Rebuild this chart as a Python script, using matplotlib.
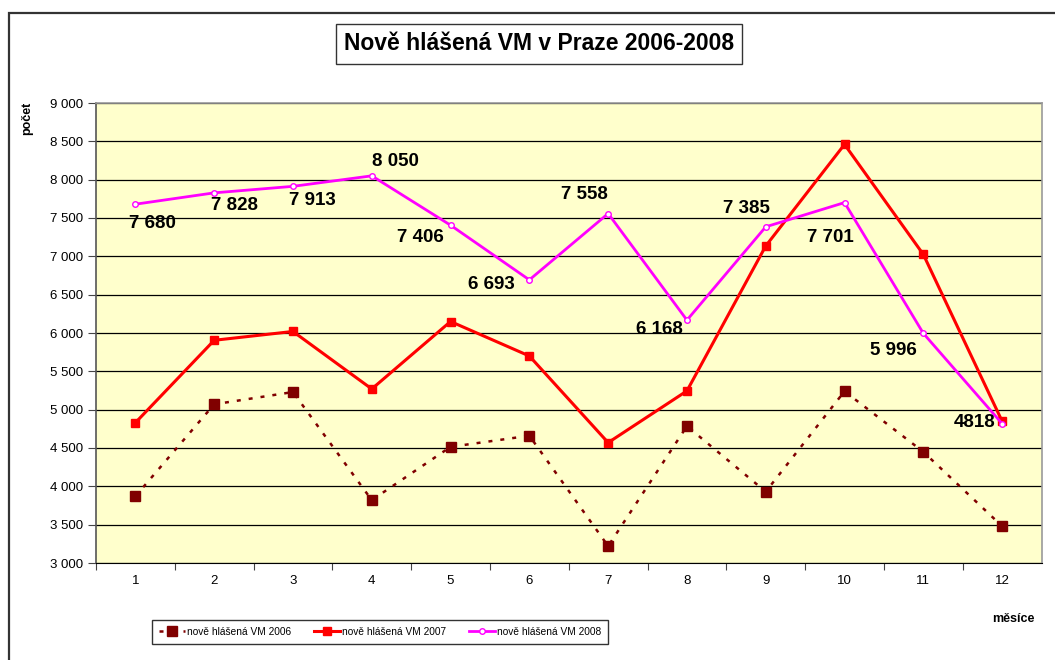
import matplotlib.pyplot as plt
from matplotlib.patches import Rectangle
from matplotlib.ticker import FuncFormatter, MultipleLocator

# data
months = list(range(1, 13))
vm_2006 = [3870, 5070, 5230, 3820, 4515, 4660, 3220, 4785, 3930, 5240, 4450, 3480]
vm_2007 = [4830, 5905, 6020, 5270, 6150, 5700, 4570, 5245, 7135, 8460, 7025, 4850]
vm_2008 = [7680, 7828, 7913, 8050, 7406, 6693, 7558, 6168, 7385, 7701, 5996, 4818]
labels_2008 = ["7 680", "7 828", "7 913", "8 050", "7 406", "6 693",
               "7 558", "6 168", "7 385", "7 701", "5 996", "4818"]

# label offsets in pixels (dx, dy) from each 2008 point
label_offsets = [(17, -19), (20, -13), (19, -14), (24, 14), (-30, -12), (-38, -5),
                 (-24, 19), (-27, -9), (-19, 18), (-14, -35), (-30, -17), (-27, 1)]

W, H = 1055, 660
fig = plt.figure(figsize=(W / 100, H / 100), dpi=100)
fig.patch.set_facecolor("white")
plt.rcParams['font.family'] = ['Liberation Sans', 'DejaVu Sans']

# outer chart border
fig.patches.append(Rectangle((9 / W, -0.05), 1.1, 1 - 13 / H + 0.05, transform=fig.transFigure,
                             fill=False, edgecolor="#333333", linewidth=1.6))

left, top, right, bottom = 96, 103, 1041.5, 563
ax = fig.add_axes([left / W, 1 - bottom / H, (right - left) / W, (bottom - top) / H])
ax.set_facecolor("#FFFFCC")

ax.plot(months, vm_2006, color="#800000", linewidth=1.8, dashes=(1.6, 3.2),
        marker="s", markersize=6.5, markeredgecolor="#800000", label="nově hlášená VM 2006")
ax.plot(months, vm_2007, color="#FF0000", linewidth=2.2,
        marker="s", markersize=6, label="nově hlášená VM 2007")
ax.plot(months, vm_2008, color="#FF00FF", linewidth=2,
        marker="o", markersize=4, markerfacecolor="white", markeredgecolor="#FF00FF",
        markeredgewidth=1, label="nově hlášená VM 2008")

for x, y, txt, (dx, dy) in zip(months, vm_2008, labels_2008, label_offsets):
    ax.annotate(txt, (x, y), xytext=(dx, dy), textcoords="offset pixels",
                ha="center", va="center", fontsize=13.5, fontweight="bold")

ax.set_xlim(0.5, 12.5)
ax.set_ylim(3000, 9000)
ax.yaxis.set_major_locator(MultipleLocator(500))
ax.yaxis.set_major_formatter(FuncFormatter(lambda v, p: f"{int(v):,}".replace(",", " ")))
ax.set_xticks([m + 0.5 for m in months[:-1]] + [0.5])
ax.set_xticklabels([])
ax.set_xticks(months, minor=True)
ax.set_xticklabels([str(m) for m in months], minor=True)
ax.tick_params(axis="x", which="major", length=5, direction="out", color="#444444")
ax.tick_params(axis="x", which="minor", length=0, pad=9, labelsize=9.5)
ax.tick_params(axis="y", length=6, pad=3, labelsize=9.5, color="#444444")
ax.grid(axis="y", color="black", linewidth=0.9)
ax.set_axisbelow(True)

for s in ["top", "right"]:
    ax.spines[s].set_color("#9a9a9a")
    ax.spines[s].set_linewidth(1.2)
ax.spines["left"].set_color("#555555")
ax.spines["left"].set_linewidth(1.2)
ax.spines["bottom"].set_color("black")

fig.text(27 / W, 1 - 118 / H, "počet", rotation=90, ha="center", va="center",
         fontsize=9, fontweight="bold")
fig.text(1013 / W, 1 - 619 / H, "měsíce", ha="center", va="center",
         fontsize=9, fontweight="bold")

fig.text(539 / W, 1 - 44 / H, "Nově hlášená VM v Praze 2006-2008", ha="center", va="center",
         fontsize=16.5, fontweight="bold",
         bbox=dict(boxstyle="square,pad=0.35", facecolor="white", edgecolor="#333333", linewidth=1))

leg = fig.legend(loc="center", bbox_to_anchor=(380 / W, 1 - 632 / H), ncol=3,
                 fontsize=7.3, frameon=True, fancybox=False, edgecolor="black",
                 handlelength=2.6, handletextpad=0.2, columnspacing=2.2, borderpad=0.7,
                 borderaxespad=0)
leg.get_frame().set_linewidth(1)

fig.savefig("out.png", dpi=100, facecolor="white")
